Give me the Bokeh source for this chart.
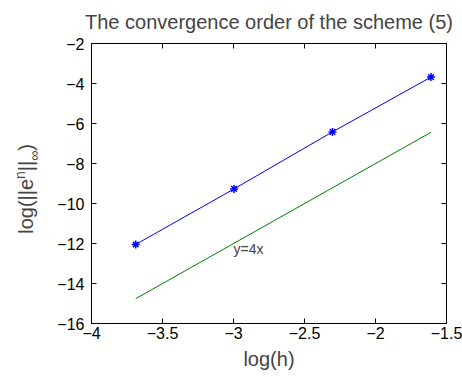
from bokeh.plotting import figure
from bokeh.models import Range1d, LinearAxis, FixedTicker, Label
from bokeh.layouts import row
from bokeh.embed import file_html
from bokeh.resources import INLINE
import math

# ---- data ----
log_h = [-3.689, -2.996, -2.303, -1.609]
log_err = [-12.05, -9.27, -6.42, -3.68]
ref_x = [-3.689, -1.609]
ref_y = [-14.76, -6.44]
ref_label = "y=4x"
ref_label_pos = (-3.0, -12.25)

x_ticks = [-4, -3.5, -3, -2.5, -2, -1.5]
x_tick_labels = ["\u22124", "\u22123.5", "\u22123", "\u22122.5", "\u22122", "\u22121.5"]
y_ticks = [-16, -14, -12, -10, -8, -6, -4, -2]
y_tick_labels = ["\u221216", "\u221214", "\u221212", "\u221210", "\u22128", "\u22126", "\u22124", "\u22122"]

FONT = "Liberation Sans"
W, H = 462, 377
LABEL_W = 46
FRAME_BOTTOM = 323   # page pixel row of the plot frame's bottom edge

# ---- main plot ----
p = figure(width=W - LABEL_W, height=H, output_backend="svg", toolbar_location=None,
           x_range=Range1d(-4, -1.5), y_range=Range1d(-16, -2),
           min_border_left=91 - LABEL_W, min_border_right=16, min_border_top=43,
           min_border_bottom=H - FRAME_BOTTOM)
p.title.text = "The convergence order of the scheme (5)"
p.title.text_font = FONT
p.title.text_font_size = "20px"
p.title.text_font_style = "normal"
p.title.align = "center"
p.title.vertical_align = "top"
p.title.standoff = 17
p.title.offset = 0

p.grid.visible = False
p.outline_line_color = "black"

for ax, ticks, labels in ((p.xaxis[0], x_ticks, x_tick_labels), (p.yaxis[0], y_ticks, y_tick_labels)):
    ax.ticker = FixedTicker(ticks=ticks)
    ax.major_label_overrides = {t: l for t, l in zip(ticks, labels)}
    ax.major_tick_in = 5
    ax.major_tick_out = 0
    ax.minor_tick_in = 0
    ax.minor_tick_out = 0
    ax.axis_line_color = "black"
    ax.major_label_text_font = FONT
    ax.major_label_text_font_size = "16px"
    ax.major_label_text_color = "black"

p.xaxis[0].major_label_standoff = 3
p.yaxis[0].major_label_standoff = 7
p.xaxis[0].axis_label = "log(h)"
p.xaxis[0].axis_label_text_font = FONT
p.xaxis[0].axis_label_text_font_size = "20px"
p.xaxis[0].axis_label_text_font_style = "normal"
p.xaxis[0].axis_label_standoff = 6

for loc, ticks in (("above", x_ticks), ("right", y_ticks)):
    ax = LinearAxis(ticker=FixedTicker(ticks=ticks), major_tick_in=5, major_tick_out=0,
                    minor_tick_in=0, minor_tick_out=0,
                    major_label_overrides={t: "" for t in ticks},
                    major_label_standoff=0, axis_line_color="black")
    p.add_layout(ax, loc)

p.line(ref_x, ref_y, line_color="#008000", line_width=1)
p.line(log_h, log_err, line_color="#0000ff", line_width=1)
p.scatter(log_h, log_err, marker="asterisk", size=8, line_color="#0000ff", line_width=1.5)
p.add_layout(Label(x=ref_label_pos[0], y=ref_label_pos[1], text=ref_label, text_font=FONT,
                   text_font_size="14px", text_baseline="alphabetic", text_align="left"))

# ---- y-axis label panel, with superscript n and subscript infinity ----
# its frame is aligned with the main frame; pieces are anchored at the frame bottom
q = figure(width=LABEL_W, height=H, output_backend="svg", toolbar_location=None,
           x_range=Range1d(0, LABEL_W), y_range=Range1d(0, 1),
           x_axis_location=None, y_axis_location=None, min_border=0, title=None)
q.grid.visible = False
q.outline_line_color = None

pieces = [("log(||e", 20, 0), ("n", 14, -6), ("||", 20, 0), ("\u221e", 14, 8), (")", 20, 0)]
widths = {"log(||e": 2.743, "n": 0.556, "||": 0.52, "\u221e": 0.713, ")": 0.333}
base_x = 25.5
offset_up = FRAME_BOTTOM - 233.3
for txt, fs, shift in pieces:
    q.add_layout(Label(x=base_x + shift, y=0, y_offset=offset_up, text=txt, text_font=FONT,
                       text_font_size=f"{fs}px", angle=math.pi / 2,
                       text_align="left", text_baseline="alphabetic"))
    offset_up += widths[txt] * fs

layout = row(q, p)
open("out.html", "w").write(file_html(layout, INLINE))
